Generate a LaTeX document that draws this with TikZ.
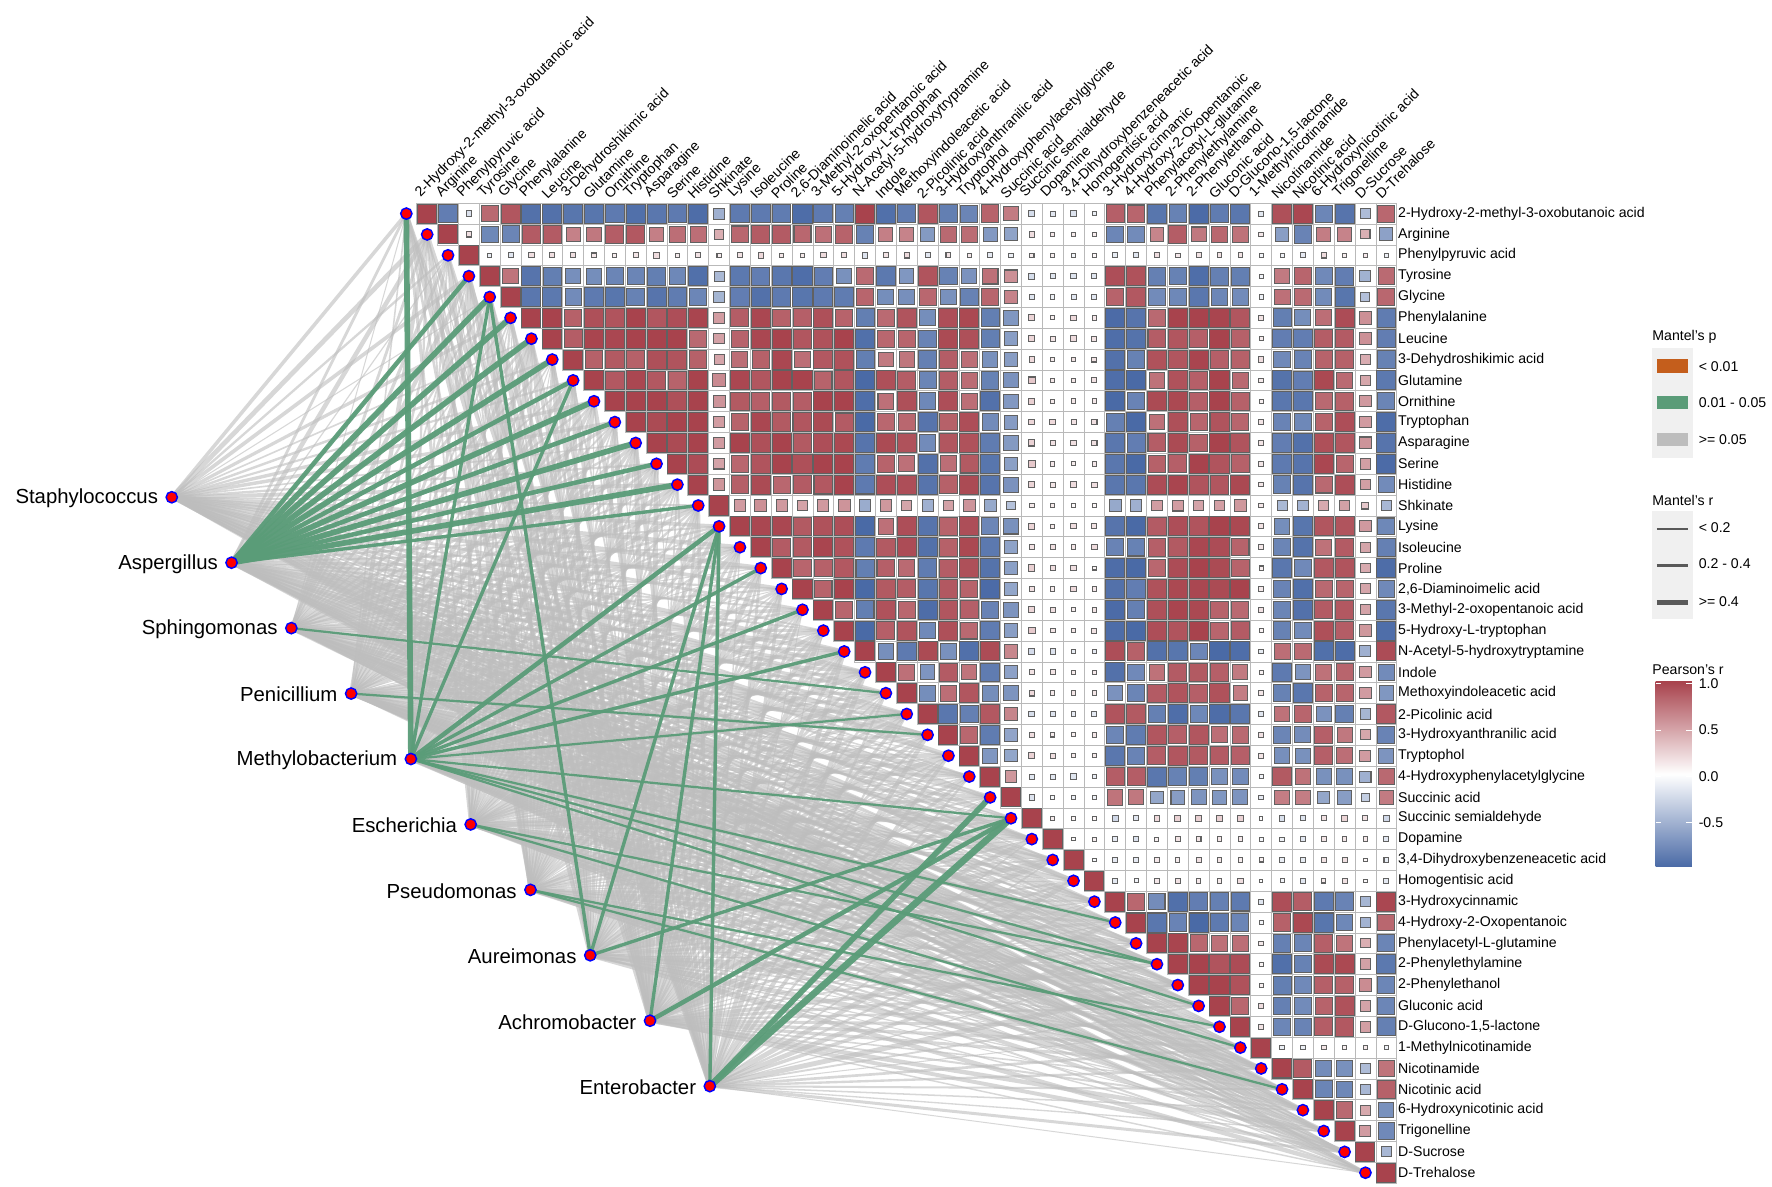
\documentclass[tikz,border=0pt]{standalone}
\usepackage{fontspec}
\setmainfont{Liberation Sans}
\begin{document}
\definecolor{cR}{HTML}{A8434D}
\definecolor{cB}{HTML}{4A6AA6}
\definecolor{cG}{HTML}{5A9C78}
\definecolor{cO}{HTML}{C45E1C}
\definecolor{cGr}{HTML}{BDBDBD}
\definecolor{panel}{HTML}{F0F0F0}
\tikzset{
  rowlab/.style={anchor=west,inner sep=0pt,font=\fontsize{12.5}{14}\selectfont},
  collab/.style={anchor=south west,inner sep=0pt,rotate=45,font=\fontsize{12.5}{14}\selectfont},
  taxlab/.style={anchor=east,inner sep=0pt,font=\fontsize{18}{20}\selectfont},
  legtitle/.style={anchor=west,inner sep=0pt,font=\fontsize{12.5}{14}\selectfont},
  leglab/.style={anchor=west,inner sep=0pt,font=\fontsize{12.5}{14}\selectfont},
  dotnode/.style={circle,fill=red,draw=blue,line width=1.3pt,inner sep=0pt,minimum size=10pt},
  grayedge/.style={cGr,opacity=0.6},
  greenedge/.style={cG,opacity=0.95},
}
\begin{tikzpicture}[x=1pt,y=-1pt]
\useasboundingbox (0,0) rectangle (1568,1050);
\def\cs{18.45}
\def\xo{378}
\def\yo{189}
\def\sv{{-1,0.8,0.1,-0.9,-0.9,1,1,0.9,1,1,1,1,1,1,0.5,1,1,1,1,1,1,-1,0.9,0.9,-0.9,0.9,0.9,-0.9,-0.65,0.15,0.08,0.08,0.08,-1,-1,0.9,1,1,1,0.9,0.07,-0.9,-0.9,0.9,0.9,0.45,-0.9}}
\def\names{{"2-Hydroxy-2-methyl-3-oxobutanoic acid","Arginine","Phenylpyruvic acid","Tyrosine","Glycine","Phenylalanine","Leucine","3-Dehydroshikimic acid","Glutamine","Ornithine","Tryptophan","Asparagine","Serine","Histidine","Shkinate","Lysine","Isoleucine","Proline","2,6-Diaminoimelic acid","3-Methyl-2-oxopentanoic acid","5-Hydroxy-L-tryptophan","N-Acetyl-5-hydroxytryptamine","Indole","Methoxyindoleacetic acid","2-Picolinic acid","3-Hydroxyanthranilic acid","Tryptophol","4-Hydroxyphenylacetylglycine","Succinic acid","Succinic semialdehyde","Dopamine","3,4-Dihydroxybenzeneacetic acid","Homogentisic acid","3-Hydroxycinnamic","4-Hydroxy-2-Oxopentanoic","Phenylacetyl-L-glutamine","2-Phenylethylamine","2-Phenylethanol","Gluconic acid","D-Glucono-1,5-lactone","1-Methylnicotinamide","Nicotinamide","Nicotinic acid","6-Hydroxynicotinic acid","Trigonelline","D-Sucrose","D-Trehalose"}}
\pgfmathsetseed{11}
\foreach \i in {1,...,47}{
  \pgfmathsetmacro\dx{\xo+(\i-2)*\cs}
  \pgfmathsetmacro\dy{\yo+(\i-1)*\cs}
  \coordinate (m\i) at (\dx,\dy);
}
\foreach \k in {0,...,9}{
  \pgfmathsetmacro\tx{152+52.9*\k}
  \pgfmathsetmacro\ty{440+57.9*\k}
  \coordinate (t\k) at (\tx,\ty);
}
% gray edges
\foreach \k in {0,...,9}{
  \foreach \i in {1,...,47}{
    \pgfmathsetmacro\w{0.8+3.6*rnd}
    \draw[grayedge,line width=\w pt] (t\k) -- (m\i);
  }
}
% green edges
\foreach \k/\i/\w in {1/4/4,1/5/5,1/6/5,1/7/5,1/8/5,1/9/4,1/10/5,1/11/4,1/12/5,1/13/4,1/14/5,1/15/3,
  4/1/5,4/5/3,4/9/3,4/16/4,4/18/3,4/20/3,4/22/3,4/25/2,4/30/2,4/35/2,4/37/2,4/39/2,
  7/5/3,7/16/3,7/30/3,8/16/3,8/30/4,9/16/3,9/29/5,9/30/6,
  5/37/2,5/41/2,6/40/2,6/43/2,2/24/2,3/26/2}{
  \draw[greenedge,line width=\w pt] (t\k) -- (m\i);
}
\foreach \k/\nm in {0/Staphylococcus,1/Aspergillus,2/Sphingomonas,3/Penicillium,4/Methylobacterium,5/Escherichia,6/Pseudomonas,7/Aureimonas,8/Achromobacter,9/Enterobacter}{
  \node[dotnode] (td\k) at (t\k) {};
  \node[taxlab] (tl\k) at ([xshift=-12pt,yshift=-1pt]t\k) {\nm};
}
\foreach \i in {1,...,47}{ \node[dotnode] (md\i) at (m\i) {}; }
% matrix
\foreach \i in {1,...,47}{
  \pgfmathsetmacro\si{\sv[\i-1]}
  \pgfmathsetmacro\cy{\yo+(\i-1)*\cs}
  \foreach \j in {\i,...,47}{
    \pgfmathsetmacro\sj{\sv[\j-1]}
    \pgfmathsetmacro\cx{\xo+(\j-1)*\cs}
    \ifnum\i=\j \def\r{1}\else
      \pgfmathsetmacro\r{max(-1,min(1,\si*\sj*(0.78+0.3*rnd)+0.08*(rnd-0.5)))}\fi
    \pgfmathsetmacro\a{abs(\r)}
    \pgfmathtruncatemacro\p{100*min(1,\a^0.75)}
    \pgfmathtruncatemacro\pos{\r>=0}
    \ifnum\pos=1 \def\cn{cR}\else\def\cn{cB}\fi
    \pgfmathsetmacro\hh{0.5*\cs*min(1,0.25+0.85*\a)-0.8}
    \pgfmathsetmacro\hc{0.5*\cs}
    \fill[white] (\cx-\hc,\cy-\hc) rectangle (\cx+\hc,\cy+\hc);
    \draw[gray!55,line width=0.6pt] (\cx-\hc,\cy-\hc) rectangle (\cx+\hc,\cy+\hc);
    \filldraw[fill=\cn!\p!white,draw=black!62,line width=0.9pt] (\cx-\hh,\cy-\hh) rectangle (\cx+\hh,\cy+\hh);
  }
}
\foreach \i in {1,...,47}{
  \pgfmathsetmacro\cy{\yo+(\i-1)*\cs}
  \pgfmathsetmacro\cx{\xo+(\i-1)*\cs}
  \pgfmathparse{\names[\i-1]}\let\nm\pgfmathresult
  \node[rowlab] (rl\i) at (1237,\cy) {\nm};
  \node[collab] (cl\i) at (\cx-4,177) {\nm};
}
\node[legtitle] (lp) at (1462,298) {Mantel's p};
\fill[panel] (1462,308) rectangle (1498,405);
\fill[cO] (1466,318) rectangle (1494,330);
\fill[cG] (1466,350) rectangle (1494,362);
\fill[cGr] (1466,383) rectangle (1494,395);
\node[leglab] (lp1) at (1503,324) {< 0.01};
\node[leglab] (lp2) at (1503,356) {0.01 - 0.05};
\node[leglab] (lp3) at (1503,389) {>= 0.05};
\node[legtitle] (lr) at (1462,443) {Mantel's r};
\fill[panel] (1462,452) rectangle (1498,548);
\draw[black!65,line width=1.2pt] (1466,468) -- (1494,468);
\draw[black!65,line width=2.6pt] (1466,500) -- (1494,500);
\draw[black!65,line width=4.2pt] (1466,533) -- (1494,533);
\node[leglab] (lr1) at (1503,467) {< 0.2};
\node[leglab] (lr2) at (1503,499) {0.2 - 0.4};
\node[leglab] (lr3) at (1503,532) {>= 0.4};
\node[legtitle] (pr) at (1462,593) {Pearson's r};
\shade[top color=cR,bottom color=cB,middle color=white] (1465,603) rectangle (1497,767);
\foreach \v/\yy in {1.0/605,0.5/646,0.0/687,-0.5/728}{
  \draw[white,line width=0.8pt] (1465,\yy) -- (1470,\yy) (1492,\yy) -- (1497,\yy);
  \node[leglab] at (1503,\yy) {\v};
}
\end{tikzpicture}
\end{document}
